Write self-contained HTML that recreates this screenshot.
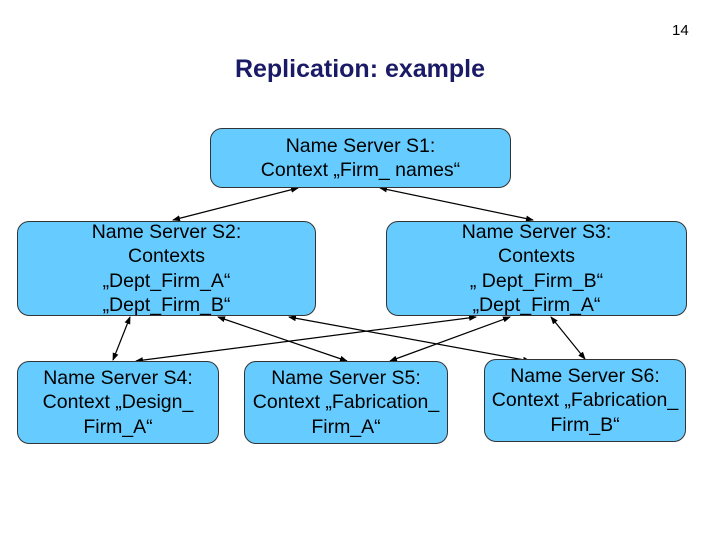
<!DOCTYPE html>
<html><head><style>
body{margin:0;width:720px;height:540px;background:#fff;position:relative;font-family:"Liberation Sans",Arial,sans-serif;overflow:hidden}
.b{position:absolute;background:#66ccff;border:1.5px solid #333;border-radius:12px;box-sizing:border-box;text-align:center;font-size:19.5px;line-height:24.5px;color:#000;display:flex;flex-direction:column;justify-content:center;white-space:nowrap}
</style></head><body>
<div style="position:absolute;left:672px;top:22px;font-size:15px">14</div>
<div style="position:absolute;left:0;width:720px;top:55px;text-align:center;font-size:25px;font-weight:bold;color:#1a1a66">Replication: example</div>
<svg width="720" height="540" style="position:absolute;left:0;top:0">
<defs><marker id="a" markerWidth="8" markerHeight="6" refX="7" refY="3" orient="auto-start-reverse" markerUnits="userSpaceOnUse"><path d="M0,0L8,3L0,6z" fill="#000"/></marker></defs>
<g stroke="#000" stroke-width="1.2" marker-start="url(#a)" marker-end="url(#a)">
<line x1="298" y1="188" x2="173" y2="220"/>
<line x1="380" y1="188" x2="533" y2="220"/>
<line x1="130" y1="317" x2="113" y2="360"/>
<line x1="218" y1="317" x2="347" y2="361"/>
<line x1="289" y1="317" x2="530" y2="361"/>
<line x1="476" y1="317" x2="136" y2="361"/>
<line x1="510" y1="317" x2="390" y2="361"/>
<line x1="551" y1="317" x2="585" y2="359"/>
</g></svg>
<div class="b" style="left:210px;top:128px;width:301px;height:60px">Name Server S1:<br>Context „Firm_ names“</div>
<div class="b" style="left:17px;top:221px;width:299px;height:95px">Name Server S2:<br>Contexts<br>„Dept_Firm_A“<br>„Dept_Firm_B“</div>
<div class="b" style="left:386px;top:221px;width:301px;height:95px">Name Server S3:<br>Contexts<br>„ Dept_Firm_B“<br>„Dept_Firm_A“</div>
<div class="b" style="left:17px;top:361px;width:202px;height:83px">Name Server S4:<br>Context „Design_<br>Firm_A“</div>
<div class="b" style="left:244px;top:361px;width:204px;height:83px">Name Server S5:<br>Context „Fabrication_<br>Firm_A“</div>
<div class="b" style="left:484px;top:359px;width:202px;height:83px">Name Server S6:<br>Context „Fabrication_<br>Firm_B“</div>
</body></html>
